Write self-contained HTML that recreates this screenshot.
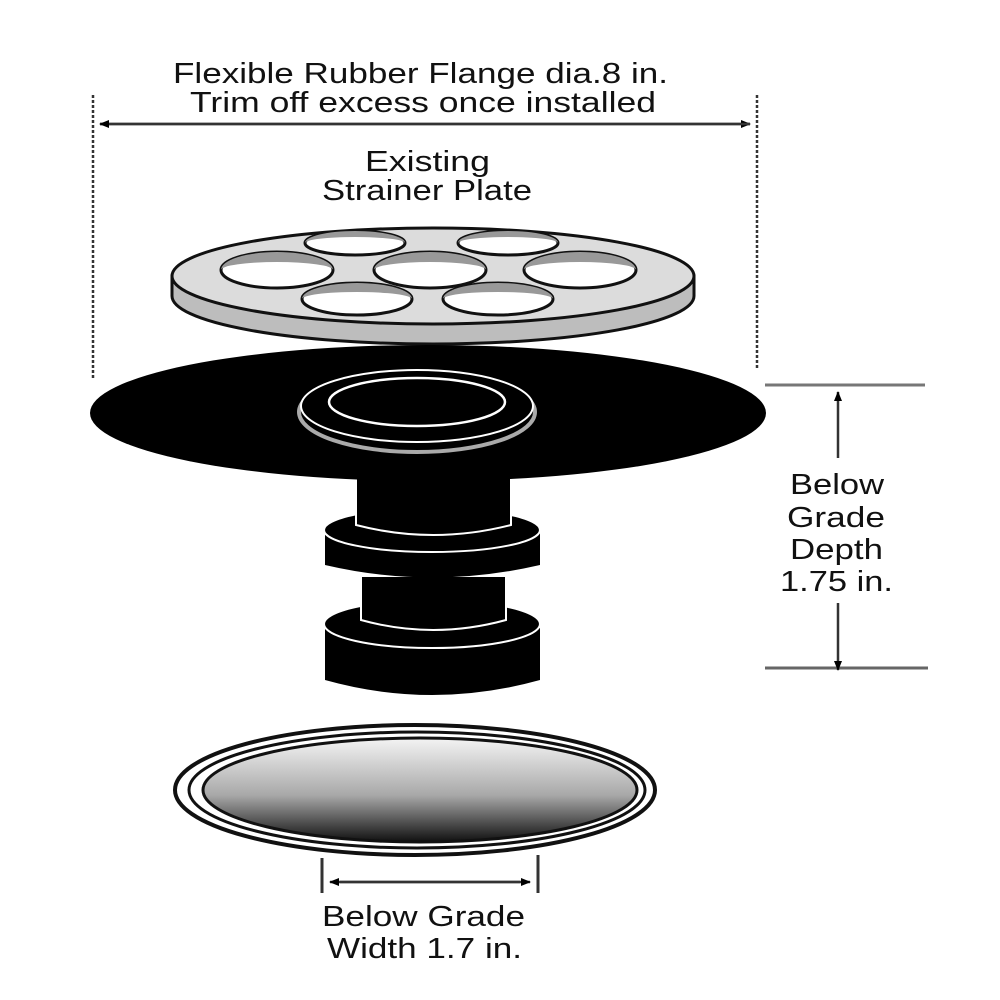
<!DOCTYPE html>
<html><head><style>html,body{margin:0;padding:0;background:#fff}svg{display:block}</style></head><body>
<svg width="1000" height="1000" viewBox="0 0 1000 1000" xmlns="http://www.w3.org/2000/svg" font-family="Liberation Sans, sans-serif">
<defs>
<linearGradient id="g" x1="0" y1="0" x2="0" y2="1"><stop offset="0" stop-color="#f4f4f4"/><stop offset="0.55" stop-color="#a8a8a8"/><stop offset="1" stop-color="#101010"/></linearGradient>
<marker id="a" markerWidth="10" markerHeight="10" refX="9" refY="5" orient="auto" markerUnits="userSpaceOnUse" viewBox="0 0 10 10"><path d="M0,1 L10,5 L0,9 z" fill="#000"/></marker>
</defs>
<g fill="#111" font-size="29" lengthAdjust="spacingAndGlyphs">
<text x="173" y="83" textLength="495" lengthAdjust="spacingAndGlyphs">Flexible Rubber Flange dia.8 in.</text>
<text x="190" y="112" textLength="466" lengthAdjust="spacingAndGlyphs">Trim off excess once installed</text>
<text x="365" y="171" textLength="125" lengthAdjust="spacingAndGlyphs">Existing</text>
<text x="322" y="200" textLength="210" lengthAdjust="spacingAndGlyphs">Strainer Plate</text>
<text x="790" y="494" textLength="94" lengthAdjust="spacingAndGlyphs">Below</text>
<text x="787" y="527" textLength="98" lengthAdjust="spacingAndGlyphs">Grade</text>
<text x="790" y="559" textLength="93" lengthAdjust="spacingAndGlyphs">Depth</text>
<text x="780" y="591" textLength="113" lengthAdjust="spacingAndGlyphs">1.75 in.</text>
<text x="322" y="926" textLength="203" lengthAdjust="spacingAndGlyphs">Below Grade</text>
<text x="327" y="958" textLength="195" lengthAdjust="spacingAndGlyphs">Width 1.7 in.</text>
</g>
<g stroke="#333" stroke-width="2.5" fill="none">
<line x1="93" y1="95" x2="93" y2="378" stroke-dasharray="3,2"/>
<line x1="757" y1="95" x2="757" y2="370" stroke-dasharray="3,2"/>
<line x1="100" y1="124" x2="750" y2="124" marker-end="url(#a)"/>
<line x1="750" y1="124" x2="100" y2="124" marker-end="url(#a)"/>
<line x1="765" y1="385" x2="925" y2="385" stroke="#777" stroke-width="3"/>
<line x1="765" y1="668" x2="928" y2="668" stroke="#666" stroke-width="3"/>
<line x1="838" y1="458" x2="838" y2="392" marker-end="url(#a)"/>
<line x1="838" y1="603" x2="838" y2="670" marker-end="url(#a)"/>
<line x1="322" y1="858" x2="322" y2="893" stroke-width="3"/>
<line x1="538" y1="855" x2="538" y2="893" stroke-width="3"/>
<line x1="340" y1="882" x2="530" y2="882" marker-end="url(#a)"/>
<line x1="520" y1="882" x2="330" y2="882" marker-end="url(#a)"/>
</g>
<!-- strainer plate -->
<path d="M172,276 L172,296 A261,48 0 0 0 694,296 L694,276 Z" fill="#bdbdbd" stroke="#111" stroke-width="3"/>
<ellipse cx="433" cy="276" rx="261" ry="48" fill="#dcdcdc" stroke="#111" stroke-width="3"/>
<g stroke="#111" stroke-width="3" fill="#fff">
<ellipse cx="355" cy="243" rx="50" ry="12"/>
<ellipse cx="508" cy="243" rx="50" ry="12"/>
<ellipse cx="277" cy="270" rx="56" ry="18"/>
<ellipse cx="430" cy="270" rx="56" ry="18"/>
<ellipse cx="580" cy="270" rx="56" ry="18"/>
<ellipse cx="357" cy="299" rx="55" ry="16"/>
<ellipse cx="498" cy="299" rx="55" ry="16"/>
</g>
<g fill="#999">
<path d="M305,243 A50,12 0 0 1 405,243 A50,6 0 0 0 305,243Z"/>
<path d="M458,243 A50,12 0 0 1 558,243 A50,6 0 0 0 458,243Z"/>
<path d="M221,270 A56,18 0 0 1 333,270 A56,8 0 0 0 221,270Z"/>
<path d="M374,270 A56,18 0 0 1 486,270 A56,8 0 0 0 374,270Z"/>
<path d="M524,270 A56,18 0 0 1 636,270 A56,8 0 0 0 524,270Z"/>
<path d="M302,299 A55,16 0 0 1 412,299 A55,7 0 0 0 302,299Z"/>
<path d="M443,299 A55,16 0 0 1 553,299 A55,7 0 0 0 443,299Z"/>
</g>
<!-- column -->
<path d="M325,628 L325,680 Q432,710 540,680 L540,628 Z" fill="#000"/>
<ellipse cx="432" cy="624" rx="108" ry="24" fill="#000" stroke="#fff" stroke-width="2"/>
<path d="M361,576 L361,620 Q433,640 506,620 L506,576 Z" fill="#000" stroke="#fff" stroke-width="2"/>
<path d="M325,532 L325,565 Q432,590 540,565 L540,532 Z" fill="#000"/>
<ellipse cx="432" cy="530" rx="108" ry="22" fill="#000" stroke="#fff" stroke-width="2"/>
<path d="M356,470 L356,525 Q433,545 511,525 L511,470 Z" fill="#000" stroke="#fff" stroke-width="2"/>
<!-- flange -->
<ellipse cx="428" cy="413" rx="338" ry="68" fill="#000"/>
<ellipse cx="417" cy="412" rx="118" ry="40" fill="#000" stroke="#aaa" stroke-width="4"/>
<ellipse cx="417" cy="406" rx="116" ry="36" fill="#000" stroke="#fff" stroke-width="2"/>
<ellipse cx="417" cy="402" rx="88" ry="24" fill="#000" stroke="#fff" stroke-width="2.5"/>
<!-- bottom disc -->
<ellipse cx="415" cy="790" rx="240" ry="65" fill="#fff" stroke="#111" stroke-width="4"/>
<ellipse cx="417" cy="790" rx="228" ry="58" fill="none" stroke="#111" stroke-width="3"/>
<ellipse cx="420" cy="790" rx="217" ry="52" fill="url(#g)" stroke="#111" stroke-width="3"/>
</svg>
</body></html>
